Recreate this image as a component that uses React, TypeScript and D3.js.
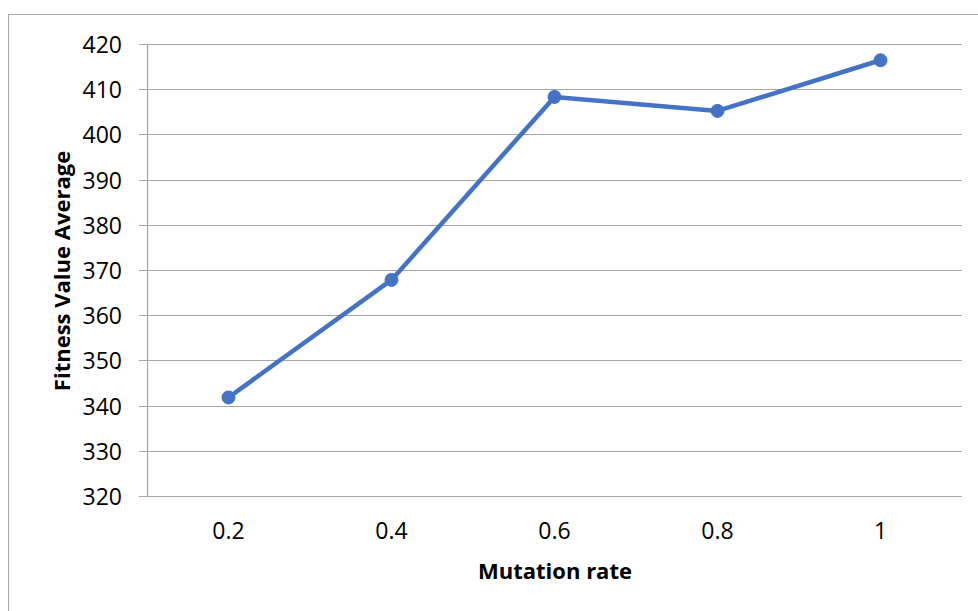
import React, { useEffect, useRef } from "react";
import * as d3 from "d3";

const categories = ["0.2", "0.4", "0.6", "0.8", "1"];
const fitnessValues = [341.8, 367.8, 408.3, 405.2, 416.4];
const yTicks = [320, 330, 340, 350, 360, 370, 380, 390, 400, 410, 420];

const W = 978;
const H = 611;
const plot = { left: 147, right: 962, top: 44, bottom: 496 };
const FONT = "'Open Sans', 'Liberation Sans', sans-serif";

export default function App() {
  const ref = useRef<SVGSVGElement>(null);

  useEffect(() => {
    const svg = d3.select(ref.current);
    svg.selectAll("*").remove();

    const x = d3.scaleBand<string>().domain(categories).range([plot.left, plot.right]);
    const y = d3.scaleLinear().domain([320, 420]).range([plot.bottom, plot.top]);

    // chart frame
    svg.append("rect")
      .attr("x", 8.5).attr("y", 14.5)
      .attr("width", W + 20).attr("height", H + 20)
      .attr("fill", "#fff").attr("stroke", "#a6a6a6").attr("stroke-width", 1);

    // horizontal gridlines with tick stubs
    const grid = svg.append("g");
    yTicks.forEach((t) => {
      const yy = Math.round(y(t)) + 0.5;
      grid.append("line")
        .attr("x1", plot.left - 8).attr("x2", plot.right)
        .attr("y1", yy).attr("y2", yy)
        .attr("stroke", "#a6a6a6").attr("stroke-width", 1.2);
      grid.append("text")
        .attr("x", 122).attr("y", yy)
        .attr("dy", "0.36em")
        .attr("text-anchor", "end")
        .attr("font-family", FONT).attr("font-size", 23)
        .attr("fill", "#000")
        .text(String(t));
    });

    // vertical axis line
    svg.append("line")
      .attr("x1", plot.left + 0.5).attr("x2", plot.left + 0.5)
      .attr("y1", plot.top).attr("y2", plot.bottom + 0.5)
      .attr("stroke", "#a6a6a6").attr("stroke-width", 1.2);

    const cx = (c: string) => (x(c) ?? 0) + x.bandwidth() / 2;

    // category labels
    categories.forEach((c) => {
      svg.append("text")
        .attr("x", cx(c))
        .attr("y", 539)
        .attr("text-anchor", "middle")
        .attr("font-family", FONT).attr("font-size", 23)
        .attr("fill", "#000")
        .text(c);
    });

    const data = categories.map((c, i) => ({ c, v: fitnessValues[i] }));

    const line = d3.line<{ c: string; v: number }>()
      .x((d) => cx(d.c))
      .y((d) => y(d.v));

    svg.append("path")
      .datum(data)
      .attr("d", line)
      .attr("fill", "none")
      .attr("stroke", "#4472c4")
      .attr("stroke-width", 4.5)
      .attr("stroke-linejoin", "round");

    svg.append("g").selectAll("circle")
      .data(data)
      .join("circle")
      .attr("cx", (d) => cx(d.c))
      .attr("cy", (d) => y(d.v))
      .attr("r", 6.5)
      .attr("fill", "#4472c4")
      .attr("stroke", "#4472c4")
      .attr("stroke-width", 1);

    // axis titles
    svg.append("text")
      .attr("x", 555)
      .attr("y", 579)
      .attr("text-anchor", "middle")
      .attr("font-family", FONT).attr("font-size", 22).attr("font-weight", "bold")
      .attr("fill", "#000")
      .text("Mutation rate");

    svg.append("text")
      .attr("transform", `translate(70, 271) rotate(-90)`)
      .attr("text-anchor", "middle")
      .attr("font-family", FONT).attr("font-size", 22).attr("font-weight", "bold")
      .attr("fill", "#000")
      .text("Fitness Value Average");
  }, []);

  return (
    <svg
      ref={ref}
      width={W}
      height={H}
      style={{ position: "absolute", left: 0, top: 0, background: "#fff" }}
    />
  );
}
